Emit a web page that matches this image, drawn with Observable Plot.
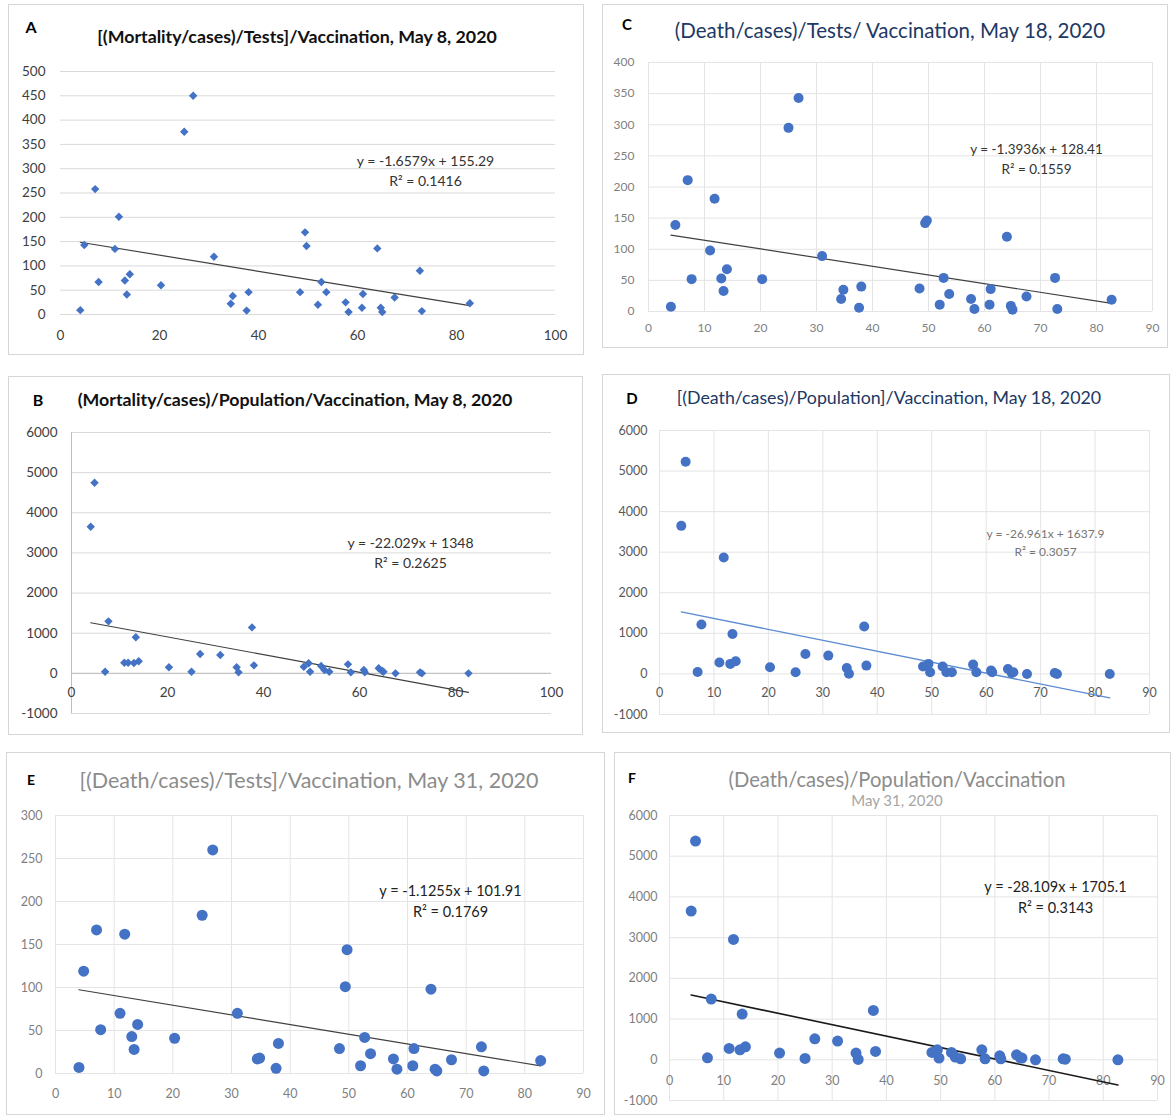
<!DOCTYPE html>
<html><head><meta charset="utf-8">
<script src="https://cdn.jsdelivr.net/npm/d3@7"></script>
<script src="https://cdn.jsdelivr.net/npm/@observablehq/plot@0.6"></script>
<style>
body{margin:0;background:#fff;font-family:Lato,"Open Sans",sans-serif;}
#root{position:relative;width:1171px;height:1115px;overflow:hidden;background:#fff;}
.box{position:absolute;border:1px solid #d6d6d6;box-sizing:border-box;}
.txt{position:absolute;white-space:nowrap;transform:translate(-50%,-50%);line-height:1;}
.chart{position:absolute;}
</style></head><body><div id="root"></div>
<script>
// Vaccination coverage (x) shared by all panels
const vaccination = [4.0, 4.8, 7.0, 7.7, 11.0, 11.8, 13.0, 13.4, 14.0, 20.3, 25.0, 26.8, 31.0, 34.4, 34.8, 37.6, 38.0, 48.4, 49.4, 49.7, 52.0, 52.7, 53.7, 57.6, 58.2, 60.9, 61.1, 64.0, 64.7, 65.0, 67.5, 72.6, 73.0, 82.7];
// A: [(Mortality/cases)/Tests]/Vaccination, May 8
const testsMay8 = [9, 143, 258, 67, 135, 201, 70, 41, 83, 60, 376, 450, 119, 22, 38, 8, 46, 46, 169, 141, 20, 67, 46, 25, 5, 14, 42, 136, 14, 5, 35, 90, 7, 23];
// B: (Mortality/cases)/Population/Vaccination, May 8
const popMay8 = [3650, 4750, 41, 1295, 266, 266, 260, 900, 300, 150, 41, 480, 456, 150, 25, 1145, 199, 166, 250, 41, 183, 83, 41, 224, 25, 83, 25, 125, 58, 41, 0, 25, 0, 0];
// C: (Death/cases)/Tests/Vaccination, May 18
const testsMay18 = [7.5, 139, 211, 52, 98, 181, 53, 33, 68, 52, 295, 343, 89, 20, 35, 6, 40, 37, 142, 146, 11, 54, 28, 20, 4, 11, 36, 120, 9, 3, 24, 54, 4, 19];
// D: [(Death/cases)/Population]/Vaccination, May 18
const popMay18 = [3650, 5228, 49, 1217, 280, 2869, 247, 986, 312, 164, 41, 493, 452, 148, 5, 1167, 205, 181, 247, 41, 181, 41, 41, 230, 41, 82, 41, 123, 25, 41, 0, 25, 0, 0];
// E: [(Death/cases)/Tests]/Vaccination, May 31
const testsMay31 = [7, 119, 167, 51, 70, 162, 43, 28, 57, 41, 184, 260, 70, 17, 18, 6, 35, 29, 101, 144, 9, 42, 23, 17, 5, 9, 29, 98, 5, 3, 16, 31, 3, 15];
// F: (Death/cases)/Population/Vaccination, May 31
const popMay31 = [3653, 5373, 49, 1491, 278, 2957, 246, 1122, 319, 164, 33, 516, 459, 164, 8, 1212, 205, 180, 246, 41, 180, 66, 25, 246, 25, 98, 25, 123, 49, 41, 0, 25, 16, 0];

// Trendline coefficients (slope, intercept) and R² as printed
const trendSlopes = [-1.6579, -22.029, -1.3936, -26.961, -1.1255, -28.109];
const trendIntercepts = [155.29, 1348, 128.41, 1637.9, 101.91, 1705.1];
const trendLabels = ["y = -1.6579x + 155.29", "y = -22.029x + 1348", "y = -1.3936x + 128.41", "y = -26.961x + 1637.9", "y = -1.1255x + 101.91", "y = -28.109x + 1705.1"];
const r2Labels = ["R² = 0.1416", "R² = 0.2625", "R² = 0.1559", "R² = 0.3057", "R² = 0.1769", "R² = 0.3143"];

// Tick labels
const ticksX100 = [0, 20, 40, 60, 80, 100];
const ticksX90 = [0, 10, 20, 30, 40, 50, 60, 70, 80, 90];
const ticksY500 = [0, 50, 100, 150, 200, 250, 300, 350, 400, 450, 500];
const ticksY400 = [0, 50, 100, 150, 200, 250, 300, 350, 400];
const ticksY300 = [0, 50, 100, 150, 200, 250, 300];
const ticksY6000 = [-1000, 0, 1000, 2000, 3000, 4000, 5000, 6000];

const letters = ["A", "B", "C", "D", "E", "F"];
const titles = [
  "[(Mortality/cases)/Tests]/Vaccination, May 8, 2020",
  "(Mortality/cases)/Population/Vaccination, May 8, 2020",
  "(Death/cases)/Tests/ Vaccination, May 18, 2020",
  "[(Death/cases)/Population]/Vaccination, May 18, 2020",
  "[(Death/cases)/Tests]/Vaccination, May 31, 2020",
  "(Death/cases)/Population/Vaccination"
];
const subtitleF = "May 31, 2020";

const panels = [
  {values: testsMay8, xTicks: ticksX100, yTicks: ticksY500,
   box: [8, 4, 584, 355], letter: [31, 27, 16], title: [297, 37, 17.8, 700, "#111"],
   px: [60, 555], py: [71, 314], yPad: 15, xDy: 21, tickSize: 13.5, tickColor: "#404040",
   grid: "#d9d9d9", vgrid: false, symbol: "diamond2", r: 3.8, trendColor: "#404040", trendW: 1.2,
   ann: [425, 169, 14, "#333"]},
  {values: popMay8, xTicks: ticksX100, yTicks: ticksY6000,
   box: [8, 376, 583, 735], letter: [38, 400, 16], title: [295, 400, 17.8, 700, "#111"],
   px: [71, 551], py: [432, 713], yPad: 14, xDy: 19, tickSize: 13.5, tickColor: "#404040",
   grid: "#d9d9d9", vgrid: false, axes: "#bfbfbf", symbol: "diamond2", r: 3.8, trendColor: "#404040", trendW: 1.2,
   ann: [410, 551, 14, "#333"]},
  {values: testsMay18, xTicks: ticksX90, yTicks: ticksY400,
   box: [602, 4, 1168, 348], letter: [627, 24, 15], title: [890, 30, 20.5, 400, "#203864"],
   px: [648, 1152], py: [62, 311], yPad: 14, xDy: 17, tickSize: 12, tickColor: "#7f7f7f",
   grid: "#e4e4e4", vgrid: true, symbol: "circle", r: 5, trendColor: "#404040", trendW: 1.2,
   ann: [1036, 157, 13.5, "#333"]},
  {values: popMay18, xTicks: ticksX90, yTicks: ticksY6000,
   box: [602, 374, 1170, 733], letter: [632, 398, 15], title: [889, 398, 17.8, 400, "#203864"],
   px: [659, 1149], py: [430, 714], yPad: 12, xDy: 19, tickSize: 12.5, tickColor: "#595959",
   grid: "#e4e4e4", vgrid: true, symbol: "circle", r: 5, trendColor: "#5b8bd0", trendW: 1.3,
   ann: [1045, 541, 12, "#767676"]},
  {values: testsMay31, xTicks: ticksX90, yTicks: ticksY300,
   box: [6, 752, 605, 1115], letter: [31, 780, 14], title: [309, 781, 21.5, 400, "#8c8c8c"],
   px: [55, 583], py: [815, 1073], yPad: 13, xDy: 20, tickSize: 12.5, tickColor: "#7f7f7f",
   grid: "#e4e4e4", vgrid: true, symbol: "circle", r: 5.5, trendColor: "#404040", trendW: 1.2,
   ann: [450, 899, 14.5, "#222"]},
  {values: popMay31, xTicks: ticksX90, yTicks: ticksY6000,
   box: [614, 752, 1171, 1115], letter: [632, 778, 14], title: [897, 779, 20.2, 400, "#8c8c8c"],
   subtitle: [897, 800, 15, "#a6a6a6"],
   px: [669, 1157], py: [815, 1100], yPad: 12, xDy: 21, tickSize: 12.5, tickColor: "#7f7f7f",
   grid: "#e4e4e4", vgrid: true, symbol: "circle", r: 5.5, trendColor: "#1a1a1a", trendW: 1.6,
   ann: [1055, 895, 14.5, "#222"]}
];

const root = document.getElementById("root");
function addText(text, x, y, size, weight, color) {
  const d = document.createElement("div");
  d.className = "txt";
  d.textContent = text;
  Object.assign(d.style, {left: x + "px", top: y + "px", fontSize: size + "px", fontWeight: weight, color});
  root.appendChild(d);
}

panels.forEach((p, i) => {
  const [bx0, by0, bx1, by1] = p.box;
  const box = document.createElement("div");
  box.className = "box";
  Object.assign(box.style, {left: bx0 + "px", top: by0 + "px", width: (bx1 - bx0) + "px", height: (by1 - by0) + "px"});
  root.appendChild(box);
  addText(letters[i], p.letter[0], p.letter[1], p.letter[2], 700, "#000");
  addText(titles[i], p.title[0], p.title[1], p.title[2], p.title[3], p.title[4]);
  if (p.subtitle) addText(subtitleF, p.subtitle[0], p.subtitle[1], p.subtitle[2], 400, p.subtitle[3]);

  const xDomain = d3.extent(p.xTicks);
  const yDomain = d3.extent(p.yTicks);
  const mt = 20, mb = 40;
  const width = bx1 - bx0;
  const height = (p.py[1] - p.py[0]) + mt + mb;
  const pts = vaccination.map((x, k) => ({x, y: p.values[k]}));
  const trend = d3.extent(vaccination).map(x => ({x, y: trendSlopes[i] * x + trendIntercepts[i]}));
  const xLabelAt = Math.max(0, yDomain[0]);

  const marks = [
    Plot.ruleY(p.yTicks, {y: d => d, stroke: p.grid, strokeWidth: 1}),
  ];
  if (p.vgrid) marks.push(Plot.ruleX(p.xTicks, {x: d => d, stroke: p.grid, strokeWidth: 1}));
  if (p.axes) {
    marks.push(Plot.ruleX([xDomain[0]], {x: d => d, stroke: p.axes}));
    marks.push(Plot.ruleY([0], {y: d => d, stroke: p.axes}));
  }
  marks.push(
    Plot.text(p.yTicks, {x: () => xDomain[0], y: d => d, text: d => String(d), textAnchor: "end", dx: -p.yPad,
      fontSize: p.tickSize, fill: p.tickColor}),
    Plot.text(p.xTicks, {x: d => d, y: () => xLabelAt, text: d => String(d), dy: p.xDy,
      fontSize: p.tickSize, fill: p.tickColor}),
    Plot.line(trend, {x: "x", y: "y", stroke: p.trendColor, strokeWidth: p.trendW}),
    Plot.dot(pts, {x: "x", y: "y", symbol: p.symbol, r: p.r, fill: "#4472c4", stroke: "none"}),
    Plot.text([trendLabels[i] + "\n" + r2Labels[i]], {frameAnchor: "top-left", text: d => d,
      dx: p.ann[0] - p.px[0], dy: p.ann[1] - p.py[0], textAnchor: "middle", lineAnchor: "middle",
      lineHeight: 1.45, fontSize: p.ann[2], fill: p.ann[3]})
  );

  const svg = Plot.plot({
    width, height,
    marginLeft: p.px[0] - bx0, marginRight: bx1 - p.px[1],
    marginTop: mt, marginBottom: mb,
    x: {type: "linear", domain: xDomain, axis: null},
    y: {type: "linear", domain: yDomain, axis: null},
    style: {background: "transparent", overflow: "visible", fontFamily: "Lato, 'Open Sans', sans-serif"},
    marks
  });
  const holder = document.createElement("div");
  holder.className = "chart";
  Object.assign(holder.style, {left: bx0 + "px", top: (p.py[0] - mt) + "px", width: width + "px"});
  holder.appendChild(svg);
  root.appendChild(holder);
});
</script></body></html>
